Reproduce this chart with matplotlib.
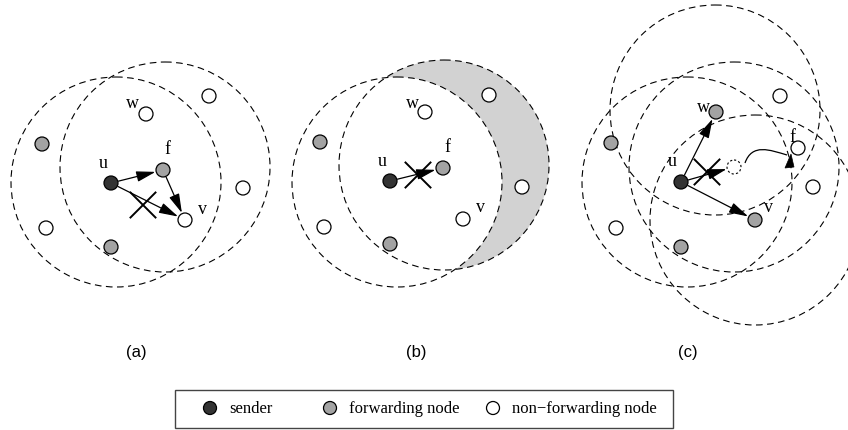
"""
Broadcast forwarding sketch: three panels (a)-(c) with transmission ranges,
sender / forwarding / non-forwarding nodes, and a legend box underneath.
Everything lives in image-pixel coordinates (x right, y down).
"""

import matplotlib
matplotlib.use("Agg")
import matplotlib.pyplot as plt
from matplotlib.patches import Circle, Rectangle, FancyArrowPatch, Polygon, PathPatch
from matplotlib.path import Path

# ---------------------------------------------------------------------------
# data
# ---------------------------------------------------------------------------

# nodes: x, y, kind  (s = sender, f = forwarding, n = non-forwarding)
nodes_a = [(111, 183, "s"), (163, 170, "f"), (185, 220, "n"), (146, 114, "n"),
           (209, 96, "n"), (243, 188, "n"), (42, 144, "f"), (46, 228, "n"),
           (111, 247, "f")]
nodes_b = [(390, 181, "s"), (443, 168, "f"), (463, 219, "n"), (425, 112, "n"),
           (489, 95, "n"), (522, 187, "n"), (320, 142, "f"), (324, 227, "n"),
           (390, 244, "f")]
nodes_c = [(681, 182, "s"), (716, 112, "f"), (755, 220, "f"), (798, 148, "n"),
           (780, 96, "n"), (813, 187, "n"), (611, 143, "f"), (616, 228, "n"),
           (681, 247, "f")]
ghost_c = (734, 167)

# transmission ranges: cx, cy, r
ranges_a = [(116, 182, 105), (165, 167, 105)]
ranges_b = [(397, 182, 105), (444, 165, 105)]
ranges_c = [(687, 182, 105), (715, 110, 105), (755, 220, 105), (734, 167, 105)]

# arrows: (x0, y0) -> (x1, y1)
arrows = [((111, 183), (163, 170)), ((111, 183), (185, 220)), ((163, 170), (185, 220)),
          ((390, 181), (443, 168)),
          ((681, 182), (716, 112)), ((681, 182), (755, 220)), ((681, 182), (734, 167))]

# crossed-out transmissions: centre of the X
crosses = [(143, 205), (418, 175), (707, 172)]

# node letters
labels = [("u", 103, 163), ("f", 167, 150), ("v", 202, 210), ("w", 132, 103),
          ("u", 382, 162), ("f", 447, 148), ("v", 480, 208), ("w", 412, 103),
          ("u", 672, 162), ("f", 792, 137), ("v", 768, 208), ("w", 703, 107)]

panel_titles = [("(a)", 136, 352), ("(b)", 416, 352), ("(c)", 688, 352)]

# wavy move arrow in (c): bezier control points and its arrow head
move_curve = [(745, 163), (752, 143), (770, 150), (787, 155)]
move_head = [(791, 154), (785, 168), (794, 167)]

legend_items = [("s", 210, "sender"), ("f", 330, "forwarding node"),
                ("n", 493, "non\u2212forwarding node")]

# ---------------------------------------------------------------------------

FILL = {"s": "#333333", "f": "#a3a3a3", "n": "white"}
SHADE = "#d2d2d2"
NODE_R = 7
SERIF = ["Liberation Serif", "DejaVu Serif"]

fig = plt.figure(figsize=(8.48, 4.30), dpi=100)
ax = fig.add_axes([0, 0, 1, 1])
ax.set_xlim(0, 848)
ax.set_ylim(430, 0)
ax.axis("off")


def dashed_circle(cx, cy, r, z=2):
    ax.add_patch(Circle((cx, cy), r, fill=False, ec="black", lw=0.8,
                        ls=(0, (6, 4)), zorder=z))


# shaded crescent in (b): second range minus first range
bx, by, br = ranges_b[1]
ax.add_patch(Circle((bx, by), br, fc=SHADE, ec="none", zorder=1))
ax.add_patch(Circle(ranges_b[0][:2], ranges_b[0][2], fc="white", ec="none", zorder=1.5))

for cx, cy, r in ranges_a + ranges_b + ranges_c:
    dashed_circle(cx, cy, r)

for x, y, kind in nodes_a + nodes_b + nodes_c:
    ax.add_patch(Circle((x, y), NODE_R, fc=FILL[kind], ec="black", lw=0.9, zorder=5))

ax.add_patch(Circle(ghost_c, NODE_R, fc="white", ec="black", lw=0.8,
                    ls=(0, (2, 2)), zorder=5))

shrink = NODE_R * 0.72 + 0.5
for p0, p1 in arrows:
    ax.add_patch(FancyArrowPatch(p0, p1, arrowstyle="-|>,head_length=0.65,head_width=0.18",
                                 mutation_scale=18, lw=0.9, color="black",
                                 shrinkA=shrink, shrinkB=shrink, zorder=4))

h = 12.5
for cx, cy in crosses:
    ax.plot([cx - h, cx + h], [cy + h, cy - h], color="black", lw=1.4, zorder=6)
    ax.plot([cx - h, cx + h], [cy - h, cy + h], color="black", lw=1.4, zorder=6)

curve = Path(move_curve, [Path.MOVETO, Path.CURVE4, Path.CURVE4, Path.CURVE4])
ax.add_patch(PathPatch(curve, fill=False, ec="black", lw=0.9, zorder=4))
ax.add_patch(Polygon(move_head, closed=True, fc="black", ec="black", lw=0.5, zorder=4))

for txt, x, y in labels:
    ax.text(x, y, txt, ha="center", va="center", fontsize=13, family=SERIF, zorder=7)

for txt, x, y in panel_titles:
    ax.text(x, y, txt, ha="center", va="center", fontsize=12,
            family=["Liberation Sans", "DejaVu Sans"])

# legend box
ax.add_patch(Rectangle((175, 390), 498, 38, fill=False, ec="#444444", lw=1.0))
for kind, x, txt in legend_items:
    ax.add_patch(Circle((x, 408), 6.5, fc=FILL[kind], ec="black", lw=0.9))
    ax.text(x + 19, 409, txt, ha="left", va="center", fontsize=12, family=SERIF)

fig.savefig("out.png", dpi=100)
